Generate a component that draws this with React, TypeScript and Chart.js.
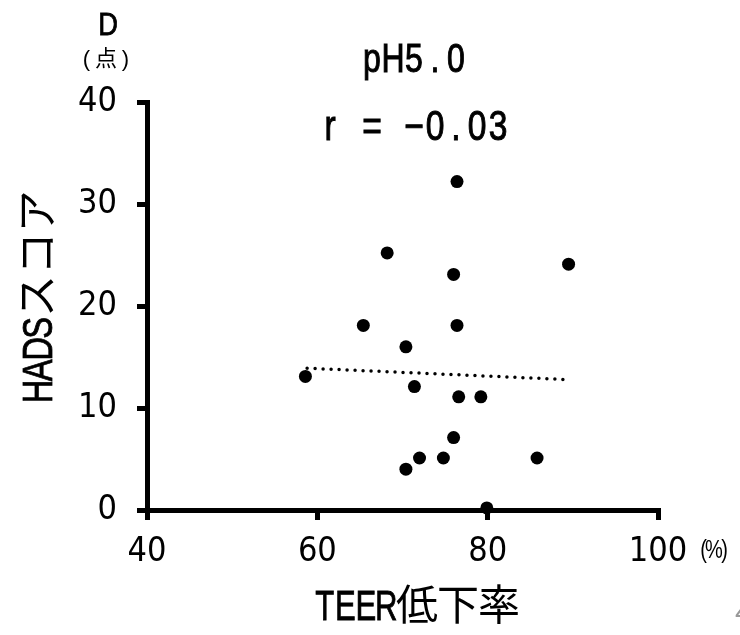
import React, { useEffect, useRef } from "react";
import { Chart, registerables } from "chart.js";

Chart.register(...registerables);

// TEER低下率 (%) and HADS score for each subject
const teerDrop = [76.4, 68.2, 89.5, 76.0, 65.4, 76.4, 70.4, 58.6, 71.4, 76.6, 79.2, 76.0, 72.0, 74.8, 85.8, 70.4, 79.9];
const hadsScore = [32.2, 25.2, 24.1, 23.1, 18.1, 18.1, 16.0, 13.1, 12.1, 11.1, 11.1, 7.1, 5.1, 5.1, 5.1, 4.0, 0.2];

// regression line end points
const trendX = [58.8, 89.0];
const trendY = [13.9, 12.8];

const xTicks = [40, 60, 80, 100];
const yTicks = [0, 10, 20, 30, 40];

const panelLabel = "D";
const yUnit = "(点)";
const titleText = "pH5.0";
const corrText = "r = −0.03";
const xTitle = "TEER低下率";
const yTitle = "HADSスコア";
const xUnit = "(%)";

const LATIN = '"Liberation Sans", Arial, sans-serif';
const CJK = '"Noto Sans CJK JP", sans-serif';
const TICKFONT = '"DejaVu Sans Condensed", "Liberation Sans", sans-serif';

function isFull(ch: string) {
  return ch.charCodeAt(0) >= 0x2e80;
}

function drawCells(
  ctx: CanvasRenderingContext2D,
  text: string,
  cx: number,
  baseline: number,
  half: number,
  size: number,
  sx = 0.82,
  bold = 0
) {
  const chars = Array.from(text);
  const total = chars.reduce((s, c) => s + (isFull(c) ? 2 * half : half), 0);
  let x = cx - total / 2;
  ctx.textAlign = "center";
  ctx.textBaseline = "alphabetic";
  for (const c of chars) {
    const full = isFull(c);
    const w = full ? 2 * half : half;
    ctx.save();
    ctx.translate(x + w / 2, baseline);
    if (!full) ctx.scale(sx, 1);
    ctx.font = `${size}px ${full ? CJK : LATIN}`;
    ctx.fillText(c, 0, 0);
    if (bold > 0 && !full) {
      ctx.lineWidth = bold;
      ctx.strokeStyle = ctx.fillStyle as string;
      ctx.strokeText(c, 0, 0);
    }
    ctx.restore();
    x += w;
  }
}

const textPlugin = {
  id: "textPlugin",
  afterDraw(chart: any) {
    const ctx: CanvasRenderingContext2D = chart.ctx;
    ctx.save();
    ctx.fillStyle = "#000";
    drawCells(ctx, panelLabel, 108, 35, 20, 31, 0.88, 0.8);
    drawCells(ctx, yUnit, 106, 66, 13, 22, 1);
    drawCells(ctx, titleText, 414, 72, 21, 40, 0.8, 1);
    drawCells(ctx, corrText, 414, 140, 21, 42, 0.8, 1);
    drawCells(ctx, xTitle, 417, 620, 20.5, 42, 0.74, 0.8);
    drawCells(ctx, xUnit, 714, 558, 10.5, 25, 0.8);
    ctx.save();
    ctx.translate(52, 296);
    ctx.rotate(-Math.PI / 2);
    drawCells(ctx, yTitle, 0, 0, 21.2, 42, 0.78, 0.8);
    ctx.restore();
    ctx.fillStyle = "#999";
    ctx.font = `30px ${LATIN}`;
    ctx.textAlign = "left";
    ctx.fillText("4", 735, 622);
    ctx.restore();
  },
};

export default function App() {
  const ref = useRef<HTMLCanvasElement | null>(null);
  useEffect(() => {
    document.body.style.margin = "0";
    const canvas = ref.current!;
    const points = teerDrop.map((x, i) => ({ x, y: hadsScore[i] }));
    const trend = trendX.map((x, i) => ({ x, y: trendY[i] }));
    const chart = new Chart(canvas, {
      type: "scatter",
      data: {
        datasets: [
          {
            type: "line",
            data: trend,
            borderColor: "#000",
            borderWidth: 3.5,
            borderDash: [0, 8],
            borderCapStyle: "round",
            pointRadius: 0,
            fill: false,
            clip: false,
          } as any,
          {
            data: points,
            backgroundColor: "#000",
            borderWidth: 0,
            pointRadius: 6.5,
            pointHoverRadius: 6.5,
            clip: false,
          } as any,
        ],
      },
      options: {
        animation: false,
        responsive: false,
        devicePixelRatio: 1,
        layout: { padding: { top: 102, right: 82, left: 0, bottom: 0 } },
        plugins: { legend: { display: false }, tooltip: { enabled: false } },
        scales: {
          x: {
            type: "linear",
            min: 40,
            max: 100,
            afterFit: (s: any) => { s.height = 125; },
            afterBuildTicks: (s: any) => { s.ticks = xTicks.map((v) => ({ value: v })); },
            ticks: { color: "#000", padding: 12, font: { family: TICKFONT, size: 34 } },
            grid: { display: true, drawOnChartArea: false, drawTicks: true, tickLength: 10, lineWidth: 5, color: "#000" },
            border: { display: true, width: 5, color: "#000" },
          },
          y: {
            type: "linear",
            min: 0,
            max: 40,
            afterFit: (s: any) => { s.width = 147; },
            afterBuildTicks: (s: any) => { s.ticks = yTicks.map((v) => ({ value: v })); },
            ticks: { color: "#000", padding: 20, font: { family: TICKFONT, size: 34 } },
            grid: { display: true, drawOnChartArea: false, drawTicks: true, tickLength: 10, lineWidth: 5, color: "#000" },
            border: { display: true, width: 5, color: "#000" },
          },
        },
      } as any,
      plugins: [textPlugin],
    });
    return () => chart.destroy();
  }, []);
  return <canvas ref={ref} width={740} height={635} style={{ display: "block" }} />;
}
